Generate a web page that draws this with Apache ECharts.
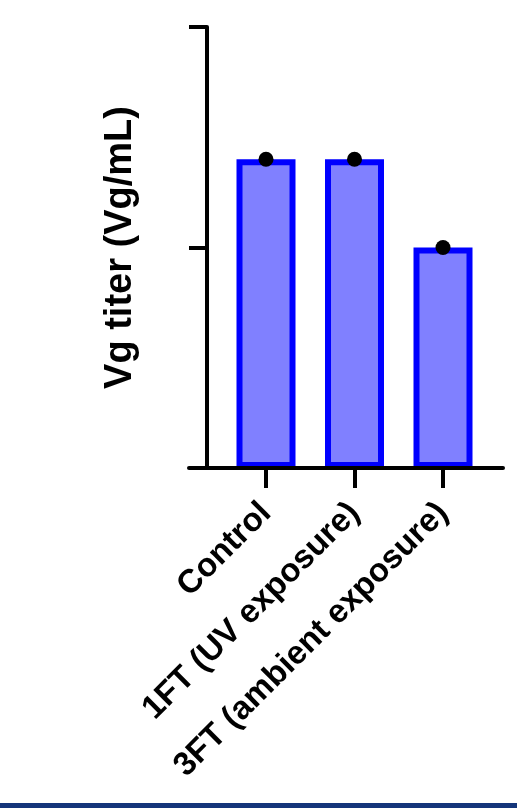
<!DOCTYPE html>
<html>
<head>
<meta charset="utf-8">
<script src="https://cdn.jsdelivr.net/npm/echarts@6/dist/echarts.min.js"></script>
<style>
html,body{margin:0;padding:0;background:#fff;}
#c{width:517px;height:808px;}
</style>
</head>
<body>
<div id="c"></div>
<script>
const categories = ['Control', '1FT (UV exposure)', '3FT (ambient exposure)'];
const titerValues = [1.4, 1.4, 1.0];
const pointValues = [1.4, 1.4, 1.0];
const yTickValues = [0, 1, 2];
const yAxisTitle = 'Vg titer (Vg/mL)';

const chart = echarts.init(document.getElementById('c'), null, {renderer: 'canvas'});
const FONT = '"Liberation Sans", Arial, Helvetica, sans-serif';

chart.setOption({
  backgroundColor: '#ffffff',
  animation: false,
  grid: [
    {left: 221.75, width: 265.5, top: 27, height: 441},
    {left: 189, width: 314, top: 27, height: 441}
  ],
  xAxis: [
    {
      type: 'category',
      gridIndex: 0,
      data: categories,
      axisLine: {show: false},
      axisTick: {show: true, alignWithLabel: true, length: 20, lineStyle: {color: '#000', width: 4}},
      axisLabel: {
        rotate: 45, margin: 40, interval: 0,
        fontFamily: FONT, fontWeight: 'bold', fontSize: 33, color: '#000'
      },
      splitLine: {show: false}
    },
    {
      type: 'value',
      gridIndex: 1,
      min: 0, max: 1,
      z: 5,
      axisLine: {show: true, onZero: false, lineStyle: {color: '#000', width: 4}},
      axisTick: {show: false},
      axisLabel: {show: false},
      splitLine: {show: false}
    }
  ],
  yAxis: [
    {
      type: 'value',
      gridIndex: 0,
      min: yTickValues[0],
      max: yTickValues[yTickValues.length - 1],
      interval: 1,
      offset: 14.75,
      z: 5,
      name: yAxisTitle,
      nameLocation: 'middle',
      nameGap: 67,
      nameTextStyle: {fontFamily: FONT, fontWeight: 'bold', fontSize: 38, color: '#000'},
      axisLine: {show: true, lineStyle: {color: '#000', width: 4}},
      axisTick: {show: true, length: 18, lineStyle: {color: '#000', width: 4}},
      axisLabel: {show: false},
      splitLine: {show: false}
    },
    {
      type: 'value',
      gridIndex: 1,
      show: false
    }
  ],
  series: [
    {
      type: 'bar',
      xAxisIndex: 0, yAxisIndex: 0,
      data: titerValues,
      barWidth: 59,
      itemStyle: {color: '#8080ff', borderColor: '#0000ff', borderWidth: 6},
      z: 2
    },
    {
      type: 'scatter',
      xAxisIndex: 0, yAxisIndex: 0,
      data: pointValues,
      symbol: 'circle',
      symbolSize: 15,
      itemStyle: {color: '#000', opacity: 1},
      z: 3
    }
  ],
  graphic: [
    {type: 'rect', left: 0, bottom: 0, shape: {width: 517, height: 5}, style: {fill: '#14357a'}, z: 10}
  ]
});
</script>
</body>
</html>
